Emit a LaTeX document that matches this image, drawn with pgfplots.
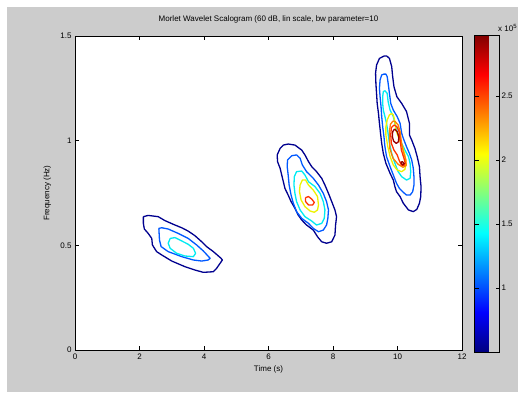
\documentclass[border=0pt]{standalone}
\usepackage{pgfplots}
\pgfplotsset{compat=1.18}
\usepackage{fontspec}
\setmainfont{Liberation Sans}
\pgfkeys{/pgf/number format/assume math mode=true}
\definecolor{mgray}{gray}{0.8}
\definecolor{c1}{rgb}{0,0,0.56}
\definecolor{c2}{rgb}{0,0.35,1}
\definecolor{c3}{rgb}{0,0.92,0.95}
\definecolor{c4}{rgb}{0.93,0.95,0}
\definecolor{c5}{rgb}{1,0.5,0}
\definecolor{c6}{rgb}{1,0.2,0}
\definecolor{c7}{rgb}{0.6,0,0}
\begin{document}
\begin{tikzpicture}[x=1pt,y=1pt]
\useasboundingbox (-75,-42) rectangle (443,350);
\fill[white] (-75,-42) rectangle (443,350);
\fill[mgray] (-68,-42) rectangle (443,343);
\begin{axis}[
  at={(0,0)}, anchor=south west,
  scale only axis, width=387pt, height=314pt,
  xmin=0, xmax=12, ymin=0, ymax=1.5,
  axis background/.style={fill=white},
  xtick={0,2,...,12}, ytick={0,0.5,1,1.5},
  tick align=inside, major tick length=4pt,
  axis line style={line width=0.7pt},
  every tick/.style={black, line width=0.6pt},
  tick label style={font=\fontsize{8}{9}\selectfont},
  title={Morlet Wavelet Scalogram (60 dB, lin scale, bw parameter=10},
  title style={font=\fontsize{8}{9}\selectfont, at={(axis description cs:0.5,1)}, anchor=south, yshift=3pt},
  xlabel={Time (s)},
  xlabel style={font=\fontsize{8}{9}\selectfont, at={(axis description cs:0.5,0)}, anchor=north, yshift=-12pt},
  ylabel={Frequency (Hz)},
  ylabel style={font=\fontsize{8}{9}\selectfont, at={(axis description cs:-0.053,0.5)}, anchor=south},
  colorbar,
  colormap/jet,
  point meta min=0.5, point meta max=2.977,
  colorbar style={
    at={(parent axis.north east)}, anchor=north west,
    xshift=4pt, yshift=1pt,
    scale only axis, width=25pt, height=317pt,
    ytick={1,1.5,2,2.5},
    ytick align=inside, ytick pos=both, yticklabel pos=right,
    major tick length=4pt,
    every tick/.style={black, line width=0.6pt},
    axis line style={line width=0.7pt},
    yticklabel style={font=\fontsize{8}{9}\selectfont, xshift=-1.5pt},
  },
  every axis plot/.append style={line width=1.3pt, line join=round},
]
% ---- blob 1 (about 3 s, 0.5 Hz)
\addplot[c1] coordinates {(2.12,0.637)(2.27,0.643)(2.58,0.637)(2.79,0.618)(3.10,0.597)(3.31,0.584)(3.51,0.568)(3.72,0.546)(3.93,0.517)(4.08,0.494)(4.29,0.470)(4.53,0.438)(4.57,0.430)(4.39,0.390)(4.29,0.374)(3.98,0.371)(3.72,0.382)(3.41,0.398)(3.00,0.425)(2.69,0.454)(2.53,0.470)(2.40,0.502)(2.38,0.533)(2.27,0.557)(2.15,0.578)(2.12,0.605)(2.12,0.637)};
\addplot[c2] coordinates {(2.60,0.581)(2.69,0.584)(2.89,0.578)(3.20,0.557)(3.51,0.533)(3.77,0.502)(3.98,0.473)(4.19,0.438)(4.13,0.430)(3.93,0.425)(3.67,0.430)(3.31,0.446)(2.89,0.470)(2.67,0.494)(2.62,0.525)(2.60,0.581)};
\addplot[c3] coordinates {(2.95,0.533)(3.10,0.537)(3.31,0.521)(3.51,0.505)(3.67,0.486)(3.74,0.462)(3.67,0.446)(3.41,0.449)(3.15,0.462)(2.95,0.486)(2.89,0.510)(2.95,0.533)};
% ---- blob 2 (about 7 s, 0.75 Hz)
\addplot[c1] coordinates {(6.36,0.963)(6.46,0.979)(6.61,0.984)(6.82,0.979)(7.03,0.955)(7.13,0.932)(7.24,0.900)(7.34,0.876)(7.49,0.852)(7.65,0.820)(7.75,0.788)(7.86,0.748)(7.96,0.709)(8.06,0.669)(8.11,0.637)(8.08,0.597)(8.06,0.549)(7.96,0.517)(7.80,0.510)(7.65,0.517)(7.52,0.541)(7.39,0.573)(7.18,0.597)(7.03,0.621)(6.92,0.645)(6.82,0.677)(6.70,0.709)(6.61,0.740)(6.51,0.772)(6.46,0.804)(6.41,0.836)(6.36,0.868)(6.28,0.900)(6.27,0.932)(6.36,0.963)};
\addplot[c2] coordinates {(6.59,0.908)(6.72,0.928)(6.87,0.932)(6.98,0.916)(7.05,0.884)(7.18,0.852)(7.39,0.820)(7.55,0.788)(7.70,0.748)(7.80,0.709)(7.86,0.669)(7.84,0.629)(7.80,0.597)(7.70,0.573)(7.55,0.565)(7.39,0.581)(7.24,0.605)(7.03,0.629)(6.87,0.661)(6.77,0.701)(6.70,0.740)(6.64,0.788)(6.61,0.836)(6.58,0.876)(6.59,0.908)};
\addplot[c3] coordinates {(6.80,0.828)(6.87,0.852)(7.03,0.855)(7.13,0.836)(7.24,0.804)(7.44,0.781)(7.60,0.748)(7.70,0.709)(7.75,0.669)(7.73,0.629)(7.65,0.605)(7.49,0.597)(7.34,0.616)(7.13,0.637)(6.98,0.669)(6.87,0.709)(6.82,0.748)(6.79,0.788)(6.80,0.828)};
\addplot[c4] coordinates {(6.98,0.788)(7.05,0.812)(7.15,0.812)(7.24,0.788)(7.39,0.764)(7.52,0.733)(7.55,0.693)(7.52,0.669)(7.42,0.658)(7.29,0.664)(7.13,0.685)(7.01,0.717)(6.96,0.757)(6.98,0.788)};
\addplot[c6] coordinates {(7.15,0.728)(7.24,0.733)(7.34,0.721)(7.42,0.705)(7.37,0.693)(7.24,0.693)(7.15,0.709)(7.15,0.728)};
% ---- blob 3 (about 10 s, 1 Hz)
\addplot[c1] coordinates {(9.58,1.404)(9.44,1.393)(9.35,1.361)(9.32,1.322)(9.33,1.274)(9.35,1.226)(9.37,1.178)(9.41,1.130)(9.44,1.083)(9.48,1.027)(9.51,0.987)(9.56,0.939)(9.64,0.892)(9.77,0.844)(9.87,0.812)(9.92,0.780)(9.97,0.756)(10.08,0.733)(10.18,0.701)(10.34,0.669)(10.49,0.661)(10.60,0.672)(10.68,0.701)(10.72,0.733)(10.73,0.780)(10.70,0.828)(10.68,0.876)(10.61,0.924)(10.54,0.963)(10.44,1.003)(10.37,1.027)(10.37,1.083)(10.28,1.139)(10.13,1.178)(9.98,1.210)(9.89,1.258)(9.85,1.306)(9.82,1.354)(9.75,1.393)(9.67,1.404)(9.58,1.404)};
\addplot[c2] coordinates {(9.58,1.318)(9.51,1.314)(9.46,1.290)(9.44,1.250)(9.46,1.210)(9.49,1.162)(9.51,1.115)(9.54,1.067)(9.58,1.019)(9.61,0.971)(9.66,0.924)(9.77,0.876)(9.87,0.836)(9.97,0.796)(10.06,0.772)(10.16,0.756)(10.28,0.740)(10.39,0.740)(10.47,0.756)(10.51,0.788)(10.51,0.828)(10.49,0.868)(10.44,0.908)(10.37,0.939)(10.28,0.971)(10.18,1.011)(10.13,1.035)(10.08,1.083)(9.99,1.115)(9.87,1.146)(9.79,1.178)(9.75,1.226)(9.71,1.274)(9.68,1.306)(9.64,1.318)(9.58,1.318)};
\addplot[c3] coordinates {(9.61,1.239)(9.56,1.234)(9.54,1.210)(9.54,1.178)(9.56,1.146)(9.61,1.115)(9.66,1.083)(9.70,1.043)(9.75,0.987)(9.82,0.939)(9.92,0.892)(10.02,0.852)(10.13,0.828)(10.28,0.812)(10.39,0.820)(10.41,0.852)(10.39,0.892)(10.34,0.924)(10.23,0.955)(10.13,0.987)(10.02,1.027)(9.92,1.083)(9.87,1.115)(9.77,1.146)(9.71,1.186)(9.68,1.226)(9.61,1.239)};
\addplot[c4] coordinates {(9.82,1.130)(9.75,1.123)(9.68,1.099)(9.64,1.067)(9.64,1.027)(9.70,0.971)(9.77,0.924)(9.87,0.884)(9.99,0.860)(10.13,0.852)(10.23,0.863)(10.26,0.892)(10.23,0.932)(10.16,0.971)(10.06,1.003)(9.95,1.051)(9.92,1.091)(9.87,1.123)(9.82,1.130)};
\addplot[c5] coordinates {(9.86,1.094)(9.78,1.078)(9.75,1.043)(9.76,0.963)(9.86,0.916)(10.02,0.887)(10.17,0.873)(10.27,0.881)(10.26,0.908)(10.18,0.947)(10.12,0.995)(10.08,1.043)(10.02,1.075)(9.93,1.091)(9.86,1.094)};
\addplot[c6] coordinates {(9.89,1.075)(9.81,1.062)(9.79,1.027)(9.81,0.987)(9.89,0.955)(9.99,0.932)(10.06,0.903)(10.12,0.884)(10.20,0.881)(10.24,0.893)(10.20,0.916)(10.12,0.955)(10.08,1.003)(10.05,1.043)(9.98,1.067)(9.89,1.075)};
\addplot[c7] coordinates {(9.91,1.056)(9.85,1.043)(9.84,1.019)(9.88,0.998)(9.96,0.987)(10.03,0.995)(10.04,1.019)(9.99,1.043)(9.91,1.056)};
\addplot[c7] coordinates {(10.10,0.896)(10.15,0.900)(10.21,0.891)(10.16,0.884)(10.10,0.896)};
\end{axis}
\node[anchor=base west, font=\fontsize{8}{9}\selectfont, inner sep=0pt] at (423,319) {x 10\textsuperscript{5}};
\end{tikzpicture}
\end{document}
